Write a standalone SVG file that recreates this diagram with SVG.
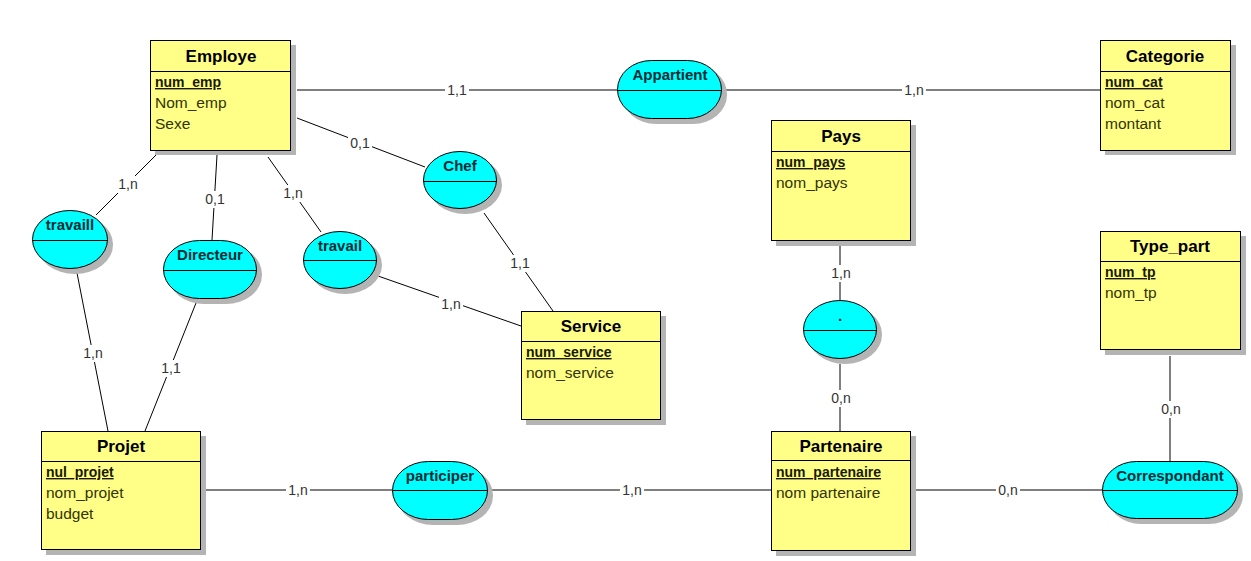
<svg xmlns="http://www.w3.org/2000/svg" width="1251" height="561" viewBox="0 0 1251 561">
<style>
.shadow{fill:#b4b4b4}
.ent{fill:#ffff88;stroke:#000;stroke-width:1}
.rel{fill:#00ffff;stroke:#000;stroke-width:1}
.sep{stroke:#000;stroke-width:1}
.title{font-family:"Liberation Sans",Arial,sans-serif;font-weight:bold;font-size:17px;fill:#000;text-anchor:middle}
.key{font-family:"Liberation Sans",Arial,sans-serif;font-weight:bold;font-size:14px;fill:#1a1a00;text-decoration:underline}
.attr{font-family:"Liberation Sans",Arial,sans-serif;font-size:15.5px;fill:#333300}
.rname{font-family:"Liberation Sans",Arial,sans-serif;font-weight:bold;font-size:15px;fill:#002b33;text-anchor:middle}
.conn line{stroke:#000;stroke-width:1}
.bg{fill:#fff}
.lbl{font-family:"Liberation Sans",Arial,sans-serif;font-size:14px;fill:#333;text-anchor:middle}
</style>
<rect width="1251" height="561" fill="#fff"/>

<g id="connectors" class="conn">
  <line x1="297" y1="90" x2="617" y2="90"/>
  <line x1="722" y1="90" x2="1100" y2="90"/>
  <line x1="297" y1="118" x2="425" y2="167"/>
  <line x1="484" y1="213" x2="553" y2="311"/>
  <line x1="268" y1="157" x2="321" y2="232"/>
  <line x1="378" y1="276" x2="521" y2="326"/>
  <line x1="217" y1="155" x2="212" y2="240"/>
  <line x1="156" y1="155" x2="96" y2="215"/>
  <line x1="77" y1="273" x2="108" y2="431"/>
  <line x1="196" y1="303" x2="145" y2="431"/>
  <line x1="205" y1="490" x2="392" y2="490"/>
  <line x1="488" y1="490" x2="771" y2="490"/>
  <line x1="916" y1="490" x2="1102" y2="490"/>
  <line x1="840" y1="246" x2="840" y2="300"/>
  <line x1="840" y1="364" x2="840" y2="431"/>
  <line x1="1170" y1="356" x2="1170" y2="461"/>
  <rect class="bg" x="445" y="82" width="24" height="17"/>
  <rect class="bg" x="902" y="82" width="24" height="17"/>
  <rect class="bg" x="348" y="135" width="24" height="17"/>
  <rect class="bg" x="508" y="255" width="24" height="17"/>
  <rect class="bg" x="281" y="185" width="24" height="17"/>
  <rect class="bg" x="439" y="296" width="24" height="17"/>
  <rect class="bg" x="203" y="191" width="24" height="17"/>
  <rect class="bg" x="116" y="176" width="24" height="17"/>
  <rect class="bg" x="81" y="345" width="24" height="17"/>
  <rect class="bg" x="159" y="360" width="24" height="17"/>
  <rect class="bg" x="286" y="482" width="24" height="17"/>
  <rect class="bg" x="620" y="482" width="24" height="17"/>
  <rect class="bg" x="996" y="482" width="24" height="17"/>
  <rect class="bg" x="829" y="265" width="24" height="17"/>
  <rect class="bg" x="829" y="390" width="24" height="17"/>
  <rect class="bg" x="1159" y="401" width="24" height="17"/>
  <text class="lbl" x="457" y="95">1,1</text>
  <text class="lbl" x="914" y="95">1,n</text>
  <text class="lbl" x="360" y="148">0,1</text>
  <text class="lbl" x="520" y="268">1,1</text>
  <text class="lbl" x="293" y="198">1,n</text>
  <text class="lbl" x="451" y="309">1,n</text>
  <text class="lbl" x="215" y="204">0,1</text>
  <text class="lbl" x="128" y="189">1,n</text>
  <text class="lbl" x="93" y="358">1,n</text>
  <text class="lbl" x="171" y="373">1,1</text>
  <text class="lbl" x="298" y="495">1,n</text>
  <text class="lbl" x="632" y="495">1,n</text>
  <text class="lbl" x="1008" y="495">0,n</text>
  <text class="lbl" x="841" y="278">1,n</text>
  <text class="lbl" x="841" y="403">0,n</text>
  <text class="lbl" x="1171" y="414">0,n</text>
</g>

<g id="Employe">
  <rect class="shadow" x="155" y="45" width="141" height="110"/>
  <rect class="ent" x="150.5" y="40.5" width="140" height="110"/>
  <line class="sep" x1="150.5" y1="71.5" x2="290.5" y2="71.5"/>
  <text class="title" x="221" y="62">Employe</text>
  <text class="key" x="155" y="87">num_emp</text>
  <text class="attr" x="155" y="108">Nom_emp</text>
  <text class="attr" x="155" y="129">Sexe</text>
</g>

<g id="Categorie">
  <rect class="shadow" x="1105" y="45" width="131" height="110"/>
  <rect class="ent" x="1100.5" y="40.5" width="130" height="110"/>
  <line class="sep" x1="1100.5" y1="71.5" x2="1230.5" y2="71.5"/>
  <text class="title" x="1165" y="62">Categorie</text>
  <text class="key" x="1105" y="87">num_cat</text>
  <text class="attr" x="1105" y="108">nom_cat</text>
  <text class="attr" x="1105" y="129">montant</text>
</g>

<g id="Pays">
  <rect class="shadow" x="776" y="125" width="140" height="121"/>
  <rect class="ent" x="771.5" y="120.5" width="139" height="120"/>
  <line class="sep" x1="771.5" y1="151.5" x2="910.5" y2="151.5"/>
  <text class="title" x="841" y="142">Pays</text>
  <text class="key" x="776" y="167">num_pays</text>
  <text class="attr" x="776" y="188">nom_pays</text>
</g>

<g id="Type_part">
  <rect class="shadow" x="1105" y="236" width="141" height="119"/>
  <rect class="ent" x="1100.5" y="231.5" width="140" height="118"/>
  <line class="sep" x1="1100.5" y1="261.5" x2="1240.5" y2="261.5"/>
  <text class="title" x="1170" y="252">Type_part</text>
  <text class="key" x="1105" y="277">num_tp</text>
  <text class="attr" x="1105" y="298">nom_tp</text>
</g>

<g id="Service">
  <rect class="shadow" x="526" y="316" width="140" height="109"/>
  <rect class="ent" x="521.5" y="311.5" width="139" height="108"/>
  <line class="sep" x1="521.5" y1="341.5" x2="660.5" y2="341.5"/>
  <text class="title" x="591" y="332">Service</text>
  <text class="key" x="526" y="357">num_service</text>
  <text class="attr" x="526" y="378">nom_service</text>
</g>

<g id="Projet">
  <rect class="shadow" x="46" y="436" width="160" height="119"/>
  <rect class="ent" x="41.5" y="431.5" width="159" height="118"/>
  <line class="sep" x1="41.5" y1="461.5" x2="200.5" y2="461.5"/>
  <text class="title" x="121" y="452">Projet</text>
  <text class="key" x="46" y="477">nul_projet</text>
  <text class="attr" x="46" y="498">nom_projet</text>
  <text class="attr" x="46" y="519">budget</text>
</g>

<g id="Partenaire">
  <rect class="shadow" x="776" y="436" width="140" height="120"/>
  <rect class="ent" x="771.5" y="431.5" width="139" height="119"/>
  <line class="sep" x1="771.5" y1="460.5" x2="910.5" y2="460.5"/>
  <text class="title" x="841" y="452">Partenaire</text>
  <text class="key" x="776" y="477">num_partenaire</text>
  <text class="attr" x="776" y="498">nom partenaire</text>
</g>

<g id="Appartient">
  <rect class="shadow" x="622" y="65" width="105" height="59" rx="34" ry="29"/>
  <rect class="rel" x="617.5" y="60.5" width="104" height="58" rx="34" ry="29"/>
  <line class="sep" x1="617.5" y1="90.5" x2="721.5" y2="90.5"/>
  <text class="rname" x="670" y="80">Appartient</text>
</g>

<g id="Chef">
  <rect class="shadow" x="428" y="156" width="74" height="58" rx="37" ry="29"/>
  <rect class="rel" x="423.5" y="151.5" width="73" height="57" rx="36.5" ry="28.5"/>
  <line class="sep" x1="423.5" y1="181.5" x2="496.5" y2="181.5"/>
  <text class="rname" x="460" y="171">Chef</text>
</g>

<g id="travaill">
  <rect class="shadow" x="37" y="215" width="76" height="59" rx="38" ry="29"/>
  <rect class="rel" x="32.5" y="210.5" width="75" height="58" rx="37.5" ry="29"/>
  <line class="sep" x1="32.5" y1="240.5" x2="107.5" y2="240.5"/>
  <text class="rname" x="70" y="230">travaill</text>
</g>

<g id="Directeur">
  <rect class="shadow" x="168" y="245" width="94" height="59" rx="36" ry="29"/>
  <rect class="rel" x="163.5" y="240.5" width="93" height="58" rx="36" ry="29"/>
  <line class="sep" x1="163.5" y1="270.5" x2="256.5" y2="270.5"/>
  <text class="rname" x="210" y="260">Directeur</text>
</g>

<g id="travail">
  <rect class="shadow" x="308" y="236" width="74" height="58" rx="37" ry="29"/>
  <rect class="rel" x="303.5" y="231.5" width="73" height="57" rx="36.5" ry="28.5"/>
  <line class="sep" x1="303.5" y1="260.5" x2="376.5" y2="260.5"/>
  <text class="rname" x="340" y="251">travail</text>
</g>

<g id="Association_pays">
  <rect class="shadow" x="808" y="305" width="74" height="59" rx="37" ry="29"/>
  <rect class="rel" x="803.5" y="300.5" width="73" height="58" rx="36.5" ry="29"/>
  <line class="sep" x1="803.5" y1="330.5" x2="876.5" y2="330.5"/>
  <text class="rname" x="840" y="321">.</text>
</g>

<g id="participer">
  <rect class="shadow" x="397" y="466" width="96" height="59" rx="36" ry="29"/>
  <rect class="rel" x="392.5" y="461.5" width="95" height="58" rx="36" ry="29"/>
  <line class="sep" x1="392.5" y1="490.5" x2="487.5" y2="490.5"/>
  <text class="rname" x="440" y="481">participer</text>
</g>

<g id="Correspondant">
  <rect class="shadow" x="1107" y="466" width="136" height="58" rx="34" ry="29"/>
  <rect class="rel" x="1102.5" y="461.5" width="135" height="57" rx="34" ry="28.5"/>
  <line class="sep" x1="1102.5" y1="490.5" x2="1237.5" y2="490.5"/>
  <text class="rname" x="1170" y="481">Correspondant</text>
</g>
</svg>
